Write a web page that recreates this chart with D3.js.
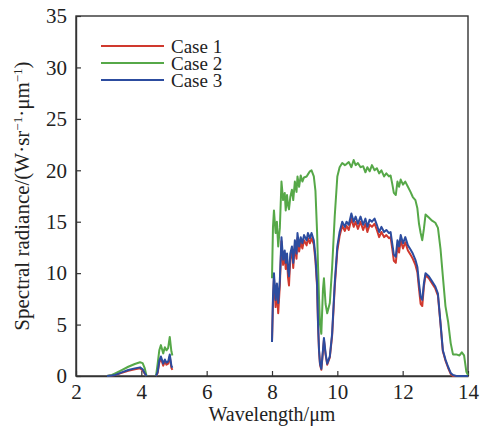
<!DOCTYPE html>
<html>
<head>
<meta charset="utf-8">
<script src="https://cdn.jsdelivr.net/npm/d3@7"></script>
<style>
  body { margin: 0; background: #fff; }
  svg text { font-family: "Liberation Serif", "DejaVu Serif", serif; fill: #222; }
</style>
</head>
<body>
<div id="chart"></div>
<script>
// wavelength grid (um), null entries in the series break the line
const wavelength = [
    2.95, 3.10, 3.20, 3.40, 3.60, 3.80, 3.96, 4.04, 4.10, 4.16,
    4.30,
    4.45, 4.50, 4.55, 4.60, 4.67, 4.72, 4.77, 4.82, 4.87, 4.92, 4.95,
    6.50,
    8.00, 8.03, 8.06, 8.11, 8.15, 8.19, 8.24, 8.29, 8.34, 8.39, 8.42, 8.46, 8.49, 8.52, 8.56, 8.61,
    8.65, 8.70, 8.75, 8.78, 8.83, 8.88, 8.93, 8.98, 9.06, 9.10, 9.16, 9.21, 9.28, 9.33, 9.38, 9.41,
    9.44, 9.47, 9.51, 9.56, 9.59, 9.64, 9.69, 9.77, 9.84, 9.92, 10.00, 10.07, 10.15, 10.23, 10.28,
    10.35, 10.43, 10.50, 10.56, 10.63, 10.71, 10.79, 10.86, 10.92, 10.99, 11.06, 11.14, 11.21, 11.28,
    11.35, 11.43, 11.50, 11.58, 11.63, 11.68, 11.73, 11.79, 11.84, 11.89, 11.94, 12.01, 12.08, 12.16,
    12.24, 12.31, 12.39, 12.45, 12.50, 12.55, 12.60, 12.65, 12.70, 12.80, 12.90, 13.00, 13.08, 13.16,
    13.23, 13.31, 13.39, 13.47, 13.54, 13.64, 13.74, 13.81, 13.88, 13.95, 14.00
];

const case1 = [
    0, 0.05, 0.1, 0.3, 0.5, 0.65, 0.75, 0.55, 0.25, 0,
    null,
    0, 0.3, 1.3, 1.7, 1.0, 1.4, 1.1, 1.2, 1.9, 0.8, 0.6,
    null,
    3.3, 7.2, 9.6, 6.7, 8.5, 6.1, 8.8, 13.1, 10.8, 11.7, 10.4, 11.4, 9.6, 8.8, 11.4, 12.1,
    10.5, 12.7, 11.4, 13.4, 12.1, 13.0, 12.4, 13.2, 12.7, 13.4, 12.9, 13.4, 12.8, 11.2, 8.7, 4.9,
    2.4, 1.1, 0.6, 2.4, 3.5, 2.1, 1.1, 1.8, 3.9, 8.6, 12.2, 13.6, 14.6, 14.1, 14.6,
    14.2, 15.3, 14.5, 15.0, 14.3, 15.0, 14.2, 14.8, 14.0, 14.7, 14.5, 14.8, 14.2, 13.5,
    14.0, 13.5, 13.7, 13.4, 13.5, 12.4, 11.2, 11.0, 12.7, 12.0, 13.2, 12.4, 13.0, 12.2,
    11.8, 11.4, 10.8, 10.1, 8.5, 7.0, 6.8, 8.7, 9.8, 9.5, 9.0, 8.5, 7.8, 5.0,
    2.4, 1.5, 0.8, 0.2, 0, 0, 0, 0, 0, 0, 0
];

const case2 = [
    0, 0.1, 0.26, 0.58, 0.9, 1.17, 1.33, 1.25, 0.8, 0,
    null,
    0, 1.2, 2.5, 3.0, 2.2, 2.8, 2.5, 2.7, 3.8, 2.4, 2.0,
    null,
    9.5, 14.5, 16.1, 13.9, 15.0, 12.6, 14.4, 18.9, 17.1, 17.8, 16.1, 17.6, 16.6, 16.2, 17.4, 18.1,
    17.1, 18.9, 17.9, 19.4, 18.4, 19.5, 18.9, 19.3, 19.4, 19.6, 19.9, 20.0, 19.4, 18.0, 14.0, 10.6,
    7.5, 5.0, 4.1, 8.4, 9.5, 7.0, 6.1, 7.1, 10.5, 15.5, 19.4, 20.3, 20.7, 20.5, 20.6,
    20.8, 20.3, 21.0, 20.5, 20.7, 20.3, 20.4, 19.8, 20.3, 19.9, 20.5, 20.0, 20.2, 19.7,
    20.0, 19.4, 19.7, 19.4, 19.5, 18.7, 17.8, 17.6, 18.9, 18.4, 19.1, 18.6, 18.9, 18.4,
    17.9, 17.4, 17.1, 16.3, 14.8, 13.9, 13.2, 14.3, 15.7, 15.4, 15.1, 14.9, 14.4, 12.3,
    9.7, 6.8, 5.3, 3.2, 2.1, 2.1, 2.0, 2.3, 2.0, 0.4, 0.1
];

const case3 = [
    0, 0.05, 0.1, 0.35, 0.58, 0.74, 0.84, 0.65, 0.3, 0,
    null,
    0, 0.4, 1.5, 1.9, 1.2, 1.6, 1.3, 1.4, 2.1, 1.0, 0.8,
    null,
    3.3, 7.7, 10.0, 7.4, 9.0, 7.1, 9.3, 13.5, 11.3, 12.2, 11.0, 11.9, 10.3, 9.7, 11.9, 12.6,
    11.0, 13.2, 11.9, 13.9, 12.6, 13.5, 12.9, 13.7, 13.2, 13.9, 13.4, 13.9, 13.2, 11.6, 9.0, 5.1,
    2.5, 1.2, 0.7, 2.5, 3.7, 2.2, 1.2, 1.9, 4.1, 9.0, 12.6, 14.0, 15.0, 14.5, 15.0,
    14.7, 15.8, 15.0, 15.5, 14.8, 15.5, 14.7, 15.3, 14.5, 15.2, 15.0, 15.3, 14.7, 14.0,
    14.5, 14.0, 14.2, 13.9, 14.0, 12.9, 11.8, 11.6, 13.2, 12.6, 13.7, 12.9, 13.5, 12.7,
    12.3, 11.9, 11.3, 10.6, 9.0, 7.7, 7.4, 9.0, 10.0, 9.7, 9.2, 8.7, 8.0, 5.1,
    2.5, 1.6, 0.9, 0.3, 0.1, 0, 0, 0, 0, 0, 0
];

const seriesNames = ["Case 1", "Case 2", "Case 3"];
const seriesColors = ["#d0392e", "#56a848", "#2c4c9f"];
const xTicks = [2, 4, 6, 8, 10, 12, 14];
const yTicks = [0, 5, 10, 15, 20, 25, 30, 35];

const W = 480, H = 432;
const margin = {top: 16, right: 12, bottom: 56, left: 76};
const width = W - margin.left - margin.right,
      height = H - margin.top - margin.bottom;

const xScale = d3.scaleLinear().domain([2, 14]).range([0, width]);
const yScale = d3.scaleLinear().domain([0, 35]).range([height, 0]);

const svg = d3.select("#chart").append("svg")
    .attr("width", W)
    .attr("height", H)
    .append("g")
    .attr("transform", "translate(" + margin.left + "," + margin.top + ")");

// frame
svg.append("rect")
    .attr("width", width)
    .attr("height", height)
    .attr("fill", "none")
    .attr("stroke", "#333")
    .attr("stroke-width", 1.4);

// x axis, ticks inward
const xAxis = svg.append("g")
    .attr("transform", "translate(0," + height + ")")
    .call(d3.axisBottom(xScale).tickValues(xTicks).tickSizeInner(-5).tickSizeOuter(0).tickPadding(8));

// y axis
const yAxis = svg.append("g")
    .call(d3.axisLeft(yScale).tickValues(yTicks).tickSizeInner(-5).tickSizeOuter(0).tickPadding(9));

[xAxis, yAxis].forEach(a => {
    a.select(".domain").attr("stroke", "#333").attr("stroke-width", 1.4);
    a.selectAll(".tick line").attr("stroke", "#333").attr("stroke-width", 1.2);
    a.selectAll(".tick text")
        .style("font-family", '"Liberation Serif", serif')
        .style("font-size", "21px")
        .attr("fill", "#222");
});

// lines: red, green, then blue on top
const allSeries = [case1, case2, case3];
[0, 1, 2].forEach(k => {
    const vals = allSeries[k];
    const line = d3.line()
        .defined((d, i) => vals[i] !== null)
        .x((d, i) => xScale(wavelength[i]))
        .y(d => yScale(d));
    svg.append("path")
        .datum(vals)
        .attr("fill", "none")
        .attr("stroke", seriesColors[k])
        .attr("stroke-width", 2)
        .attr("stroke-linejoin", "round")
        .attr("d", line);
});

// legend
const legend = svg.append("g").attr("transform", "translate(25,30)");
seriesNames.forEach((name, i) => {
    const g = legend.append("g").attr("transform", "translate(0," + (i * 17) + ")");
    g.append("line")
        .attr("x1", 0).attr("x2", 63)
        .attr("stroke", seriesColors[i])
        .attr("stroke-width", 2);
    g.append("text")
        .attr("x", 70)
        .attr("dy", "0.35em")
        .style("font-size", "19px")
        .text(name);
});

// axis titles
svg.append("text")
    .attr("x", width / 2)
    .attr("y", height + 45)
    .attr("text-anchor", "middle")
    .style("font-size", "20px")
    .text("Wavelength/μm");

const yTitle = svg.append("text")
    .attr("transform", "translate(" + (29 - margin.left) + "," + (height / 2) + ") rotate(-90)")
    .attr("text-anchor", "middle")
    .style("font-size", "21px");
yTitle.append("tspan").text("Spectral radiance/(W·sr");
yTitle.append("tspan").attr("baseline-shift", "super").style("font-size", "13px").text("−1");
yTitle.append("tspan").text("·μm");
yTitle.append("tspan").attr("baseline-shift", "super").style("font-size", "13px").text("−1");
yTitle.append("tspan").text(")");
</script>
</body>
</html>
